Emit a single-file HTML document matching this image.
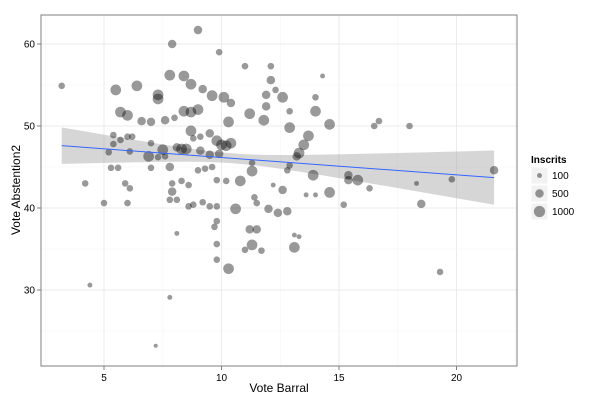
<!DOCTYPE html>
<html><head><meta charset="utf-8"><style>
body{margin:0;background:#fff;font-family:"Liberation Sans",sans-serif;}
svg text{font-family:"Liberation Sans",sans-serif;}
</style></head><body>
<svg id="chart" width="600" height="400" xmlns="http://www.w3.org/2000/svg">
<rect x="0" y="0" width="600" height="400" fill="#fff"/>
<g id="grid"></g>
<g id="ribbon"></g>
<g id="points"></g>
<g id="axes"></g>
<g id="legend"></g>
</svg>
<script>
const voteBarral=[3.2,9.0,7.9,9.9,7.8,8.4,8.7,5.5,6.4,7.3,7.3,9.2,9.6,10.1,10.4,11.0,12.1,5.7,6.0,6.6,7.0,7.6,8.0,8.4,8.7,9.0,10.3,8.7,11.2,11.8,11.9,11.9,12.1,12.3,5.4,5.4,6.0,6.2,7.0,7.5,8.1,8.3,8.5,8.8,9.1,9.5,9.8,10.0,10.2,10.4,9.1,9.5,9.9,5.2,6.1,6.9,7.3,7.6,5.7,9.3,9.6,9.0,9.8,10.2,10.8,11.3,11.3,7.8,7.0,5.3,5.6,4.2,5.9,6.1,7.9,8.3,8.6,7.9,5.0,6.0,7.8,8.1,8.6,8.8,9.2,9.5,9.8,10.6,11.4,11.5,12.0,12.4,12.8,9.8,9.7,11.2,11.5,11.3,11.7,11.0,9.8,8.1,9.8,10.3,4.4,7.8,7.2,14.3,12.6,14.0,12.9,14.0,12.9,13.7,13.5,13.3,13.2,12.9,12.8,13.9,14.6,16.5,16.7,18.0,12.2,12.6,14.6,14.0,13.6,15.4,15.4,15.8,16.3,18.3,18.5,19.8,21.6,15.2,13.1,13.3,13.1,19.3];
const voteAbstention=[54.9,61.7,60.0,59.0,56.2,56.1,55.1,54.4,54.9,53.8,53.3,54.5,53.7,53.5,52.8,57.3,57.3,51.7,51.3,50.6,50.5,50.7,51.0,51.8,51.7,52.0,50.5,49.4,51.5,50.7,52.4,53.8,55.6,54.4,48.9,47.8,48.7,48.7,47.9,47.1,47.4,47.2,47.2,48.5,48.7,49.1,48.2,47.7,47.6,47.9,47.0,46.5,46.6,46.8,46.9,46.3,46.2,46.3,48.3,44.8,45.0,44.6,43.4,43.3,43.3,45.5,44.5,45.0,44.9,44.9,44.9,43.0,43.0,42.4,43.0,43.3,42.8,42.0,40.6,40.6,41.0,41.0,40.2,40.4,40.7,40.2,40.2,39.9,41.3,40.6,39.9,39.4,39.6,38.4,37.7,37.4,37.4,35.5,34.8,34.9,35.6,36.9,33.7,32.6,30.6,29.1,23.2,56.1,53.5,53.5,51.8,51.8,49.8,48.8,47.7,46.7,46.3,45.2,44.6,44.0,50.2,50.0,50.6,50.0,42.8,42.2,41.9,41.6,41.6,44.0,43.4,43.4,42.4,43.0,40.5,43.5,44.6,40.4,36.7,36.5,35.2,32.2];
const inscrits=[250,500,500,250,900,900,900,900,900,900,900,500,900,900,500,250,250,900,900,500,500,500,250,900,900,900,900,900,900,900,500,500,500,250,250,250,250,250,250,900,500,900,900,250,250,500,900,900,900,900,500,500,500,250,250,900,250,250,250,250,250,250,250,250,900,250,900,500,250,250,250,250,250,250,250,250,250,500,250,250,250,250,250,250,250,250,250,900,250,250,500,500,500,250,250,500,500,900,250,250,250,100,250,900,100,100,50,100,900,250,250,900,900,900,900,900,500,250,250,900,900,250,250,250,100,500,900,100,100,500,500,900,250,100,500,250,500,250,100,100,900,250];
const xTicks=[5,10,15,20];
const yTicks=[30,40,50,60];
const legendValues=[100,500,1000];
const fitStart=[3.2,47.6], fitEnd=[21.6,43.7];
const NS='http://www.w3.org/2000/svg';
const L=41,R=517,T=15,B=366;
const xs=v=>104+(v-5)*23.5;
const ys=v=>126-(v-50)*8.2;
const rs=v=>1+Math.sqrt(v/1000)*4.6;
function mk(tag,attrs,parent){const e=document.createElementNS(NS,tag);for(const k in attrs)e.setAttribute(k,attrs[k]);parent.appendChild(e);return e;}
const grid=document.getElementById('grid');
for(let v=2.5;v<=22.5;v+=2.5){const g=mk('line',{x1:xs(v),x2:xs(v),y1:T,y2:B,stroke:v%5===0?'#ebebeb':'#f5f5f5','stroke-width':v%5===0?1:0.6},grid);

}
for(let v=25;v<=65;v+=5){const y=ys(v);if(y<T||y>B)continue;const g=mk('line',{x1:L,x2:R,y1:y,y2:y,stroke:v%10===0?'#ebebeb':'#f5f5f5','stroke-width':v%10===0?1:0.6},grid);

}
// ribbon
const rib=document.getElementById('ribbon');
const slope=(fitEnd[1]-fitStart[1])/(fitEnd[0]-fitStart[0]);
const fit=x=>fitStart[1]+slope*(x-fitStart[0]);
const se=x=>Math.sqrt(0.36+0.086*(x-10.5)*(x-10.5));
let up=[],lo=[];
for(let i=0;i<=40;i++){const x=fitStart[0]+(fitEnd[0]-fitStart[0])*i/40;up.push(xs(x)+','+ys(fit(x)+se(x)));lo.unshift(xs(x)+','+ys(fit(x)-se(x)));}
const band=mk('polygon',{points:up.concat(lo).join(' '),fill:'#999','fill-opacity':0.4},rib);


// points
const pts=document.getElementById('points');
for(let i=0;i<voteBarral.length;i++){const c=mk('circle',{cx:xs(voteBarral[i]),cy:ys(voteAbstention[i]),r:rs(inscrits[i]),fill:'#000','fill-opacity':0.4},pts);

}
const ln=mk('line',{x1:xs(fitStart[0]),y1:ys(fitStart[1]),x2:xs(fitEnd[0]),y2:ys(fitEnd[1]),stroke:'#3366ff','stroke-width':1},rib.parentNode);


// axes
const ax=document.getElementById('axes');
const fr=mk('rect',{x:L,y:T,width:R-L,height:B-T,fill:'none',stroke:'#7f7f7f','stroke-width':1},ax);


xTicks.forEach(v=>{const t=mk('line',{x1:xs(v),x2:xs(v),y1:B,y2:B+4,stroke:'#7f7f7f'},ax);


const tx=mk('text',{x:xs(v),y:B+15,'font-size':10,'text-anchor':'middle',fill:'#000'},ax);tx.textContent=v;

});
yTicks.forEach(v=>{const t=mk('line',{x1:L-4,x2:L,y1:ys(v),y2:ys(v),stroke:'#7f7f7f'},ax);


const tx=mk('text',{x:L-6,y:ys(v)+3.5,'font-size':10,'text-anchor':'end',fill:'#000'},ax);tx.textContent=v;

});
const xt=mk('text',{x:279,y:392,'font-size':12,'text-anchor':'middle'},ax);xt.textContent='Vote Barral';


const yt=mk('text',{x:0,y:0,'font-size':12,'text-anchor':'middle',transform:'translate(20,190) rotate(-90)'},ax);yt.textContent='Vote Abstention2';


// legend
const lg=document.getElementById('legend');
const lt=mk('text',{x:531,y:163,'font-size':10,'font-weight':'bold'},lg);lt.textContent='Inscrits';


legendValues.forEach((v,i)=>{const y=175+i*18;
const bx=mk('rect',{x:531,y:y-8,width:17,height:17,fill:'#f2f2f2',stroke:'#fff'},lg);


const c=mk('circle',{cx:539.5,cy:y+0.5,r:rs(v),fill:'#000','fill-opacity':0.4},lg);


const t=mk('text',{x:552,y:y+4,'font-size':10},lg);t.textContent=v;

});
</script>
</body></html>
